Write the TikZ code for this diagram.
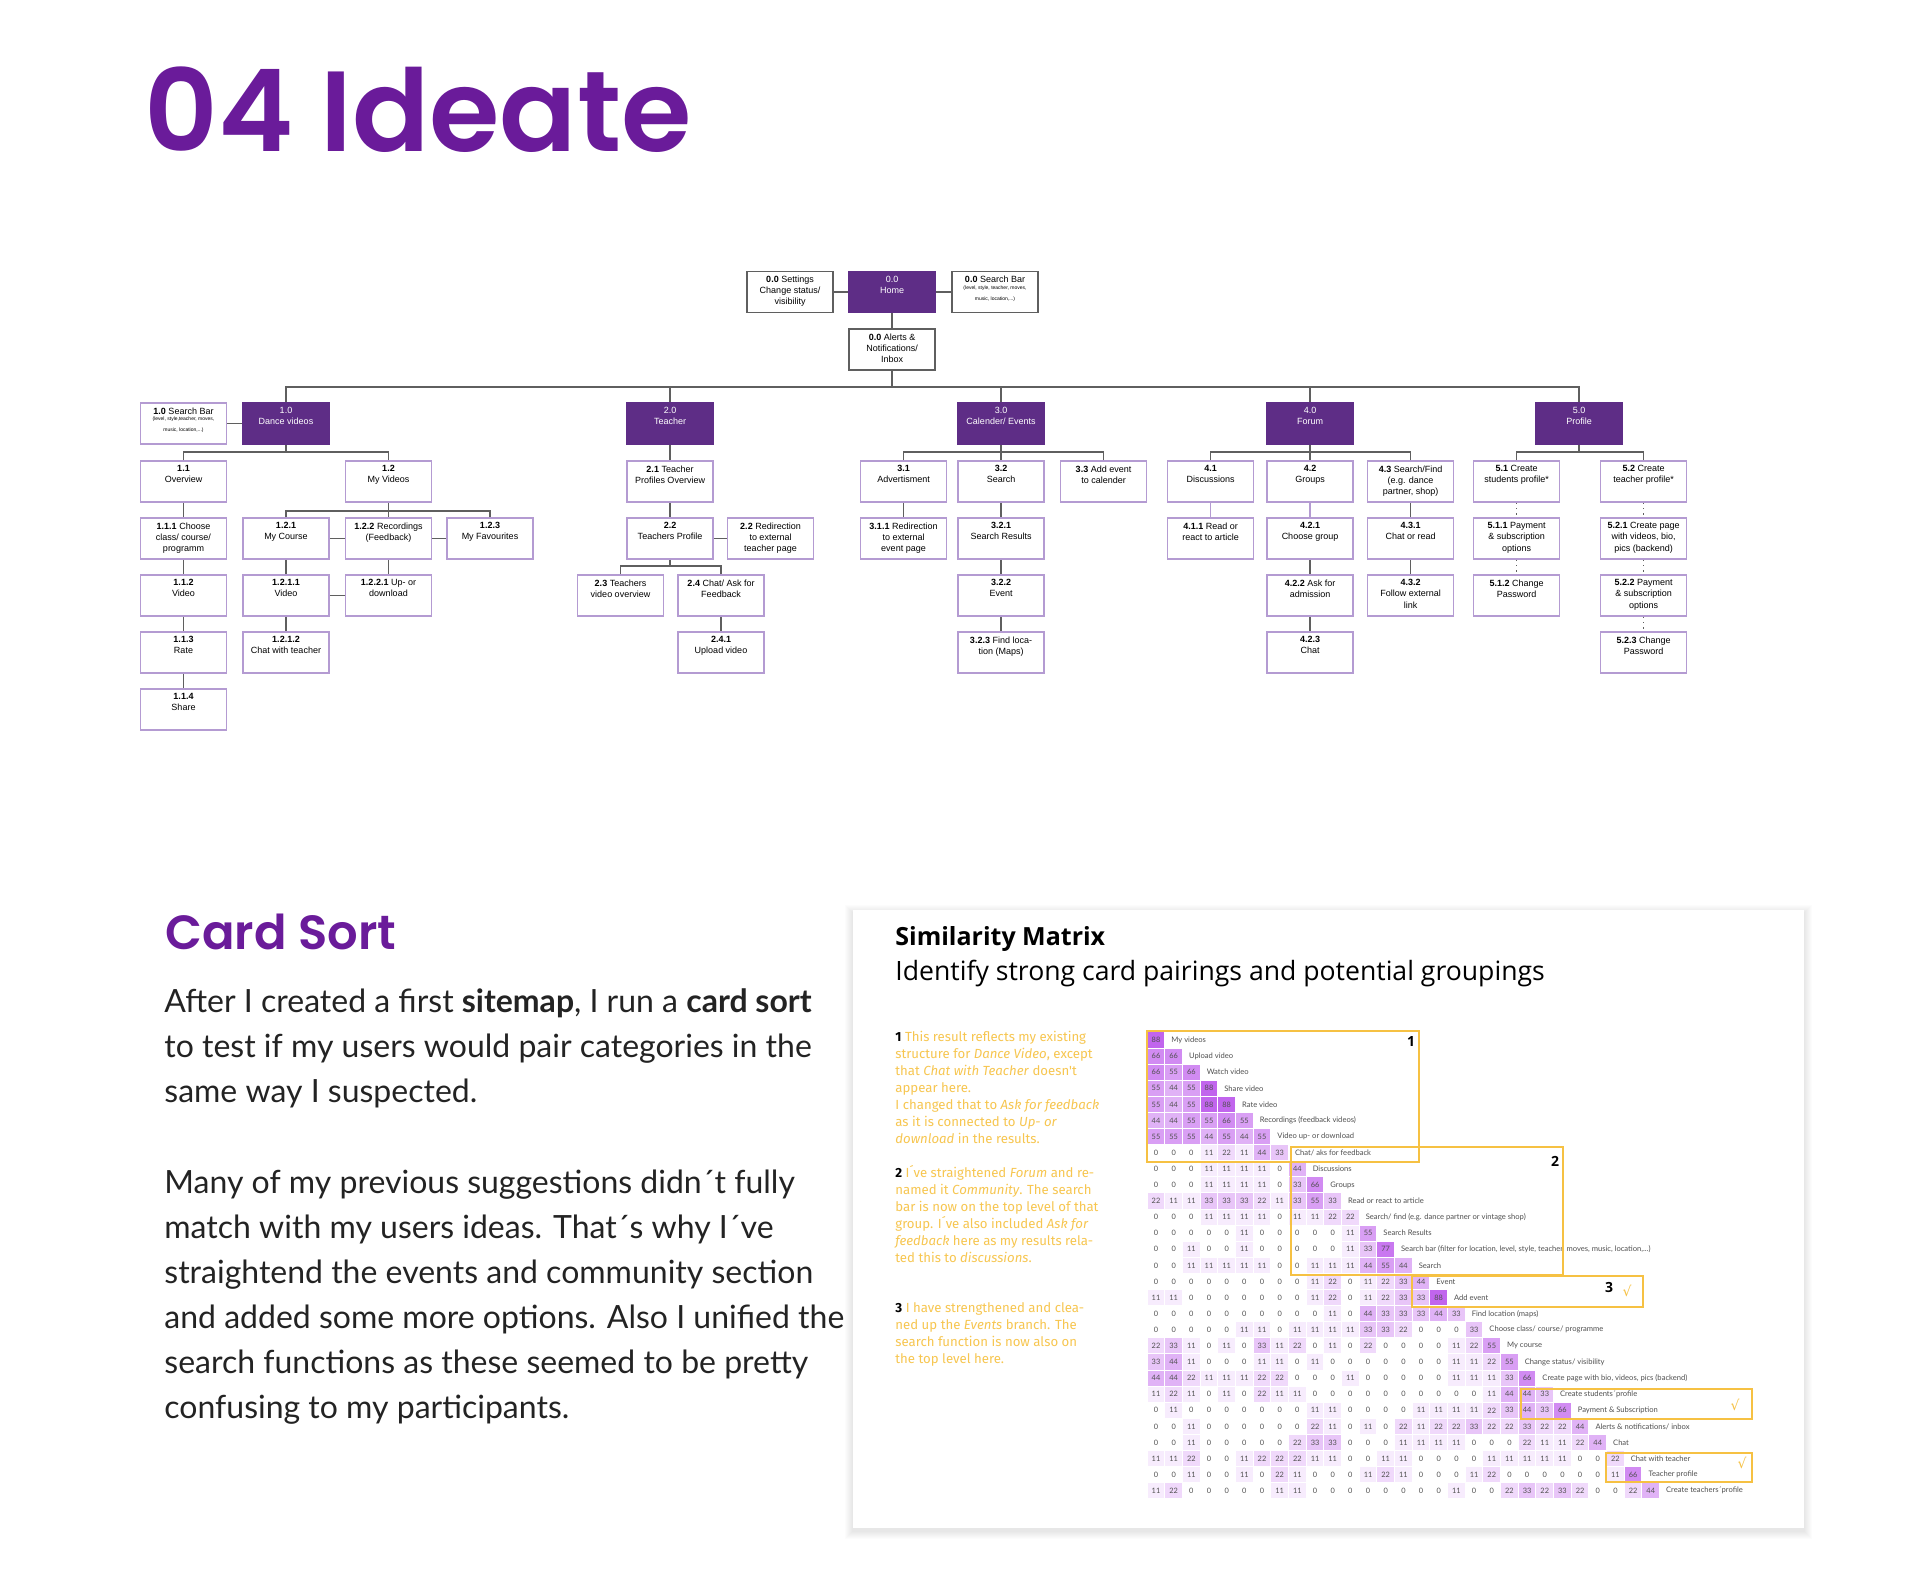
\documentclass[tikz,border=0pt]{standalone}
\usepackage{fontspec}
\setmainfont{Lato}
\newfontfamily\headfont{Poppins}[BoldFont={Poppins SemiBold}]
\newfontfamily\boxfont{Liberation Sans}
\newfontfamily\notefont{Fira Sans}
\newfontfamily\simfont{Open Sans}
\newfontfamily\symfont{DejaVu Sans}
\usepackage{tikz}

\definecolor{ideapurple}{RGB}{106,27,154}
\definecolor{boxpurple}{RGB}{94,45,134}
\definecolor{boxline}{RGB}{180,155,210}
\definecolor{linegray}{RGB}{95,95,95}
\definecolor{framey}{RGB}{246,193,67}
\definecolor{notey}{RGB}{247,198,80}
\definecolor{mpurple}{RGB}{185,80,235}
\definecolor{bodygray}{RGB}{35,35,35}
\definecolor{numgray}{RGB}{80,80,80}

\newcommand{\tinytext}[1]{{\fontsize{2.5}{3.3}\selectfont #1}}

\begin{document}
\begin{tikzpicture}[x=0.5pt, y=-0.5pt,
	every node/.style={inner sep=0pt},
	link/.style={draw=linegray, line width=0.65pt},
	softlink/.style={draw=boxline, line width=0.65pt},
	dotlink/.style={draw=linegray, line width=0.65pt, dotted},
	sbox/.style={draw=boxline, fill=white, line width=0.75pt, minimum width=43pt, minimum height=20.5pt,
		font=\boxfont\fontsize{4.5}{5.6}\selectfont,
		execute at begin node={\begin{minipage}[c][16pt][t]{42pt}\centering},
		execute at end node={\end{minipage}}},
	pbox/.style={sbox, draw=boxpurple, fill=boxpurple, text=white},
	darkbox/.style={sbox, draw=linegray},
	mcell/.style={draw=white, line width=0.5pt, minimum width=8.83pt, minimum height=8.05pt, font=\fontsize{3.7}{4}\selectfont, text=numgray},
	mlabel/.style={anchor=west, font=\fontsize{3.8}{4}\selectfont, text=numgray},
	frame/.style={draw=framey, line width=0.8pt},
	tick/.style={text=framey, font=\symfont\fontsize{7}{7}\selectfont},
	note/.style={anchor=base west, align=left, font=\notefont\fontsize{6.6}{8.5}\selectfont, text=notey},
	body/.style={anchor=base west, align=left, font=\fontsize{16}{22.5}\selectfont, text=bodygray}]
	\useasboundingbox (0,0) rectangle (1920,1575);

	\node[anchor=base west, font=\headfont\bfseries\fontsize{57}{57}\selectfont, text=ideapurple] (title) at (144,151) {04 Ideate};

	\node[darkbox] (set) at (790,292) {\textbf{0.0} Settings\\Change status/\\visibility};
	\node[pbox] (home) at (892,292) {0.0\\Home};
	\node[darkbox] (sbar) at (995,292) {\textbf{0.0} Search Bar\\\tinytext{(level, style, teacher, moves,\\music, location,...)}};
	\node[darkbox] (alerts) at (892,349.5) {\textbf{0.0} Alerts \&\\Notifications/\\Inbox};

	\node[sbox] (d10s) at (183.5,423.5) {\textbf{1.0} Search Bar\\\tinytext{(level, style,teacher, moves,\\music, location,...)}};
	\node[pbox] (d10) at (286,423.5) {1.0\\Dance videos};
	\node[pbox] (t20) at (670,423.5) {2.0\\Teacher};
	\node[pbox] (c30) at (1001,423.5) {3.0\\Calender/ Events};
	\node[pbox] (f40) at (1310,423.5) {4.0\\Forum};
	\node[pbox] (p50) at (1579,423.5) {5.0\\Profile};

	\node[sbox] (o11) at (183.5,481.5) {\textbf{1.1}\\Overview};
	\node[sbox] (o111) at (183.5,538.5) {\textbf{1.1.1} Choose\\class/ course/\\programm};
	\node[sbox] (o112) at (183.5,595.5) {\textbf{1.1.2}\\Video};
	\node[sbox] (o113) at (183.5,652.5) {\textbf{1.1.3}\\Rate};
	\node[sbox] (o114) at (183.5,709.5) {\textbf{1.1.4}\\Share};
	\node[sbox] (v12) at (388.5,481.5) {\textbf{1.2}\\My Videos};
	\node[sbox] (v121) at (286,538.5) {\textbf{1.2.1}\\My Course};
	\node[sbox] (v122) at (388.5,538.5) {\textbf{1.2.2} Recordings\\(Feedback)};
	\node[sbox] (v123) at (490,538.5) {\textbf{1.2.3}\\My Favourites};
	\node[sbox] (v1211) at (286,595.5) {\textbf{1.2.1.1}\\Video};
	\node[sbox] (v1212) at (286,652.5) {\textbf{1.2.1.2}\\Chat with teacher};
	\node[sbox] (v1221) at (388.5,595.5) {\textbf{1.2.2.1} Up- or\\download};

	\node[sbox] (t21) at (670,481.5) {\textbf{2.1} Teacher\\Profiles Overview};
	\node[sbox] (t22) at (670,538.5) {\textbf{2.2}\\Teachers Profile};
	\node[sbox] (t22r) at (770.5,538.5) {\textbf{2.2} Redirection\\to external\\teacher page};
	\node[sbox] (t23) at (620.5,595.5) {\textbf{2.3} Teachers\\video overview};
	\node[sbox] (t24) at (721,595.5) {\textbf{2.4} Chat/ Ask for\\Feedback};
	\node[sbox] (t241) at (721,652.5) {\textbf{2.4.1}\\Upload video};

	\node[sbox] (c31) at (903.5,481.5) {\textbf{3.1}\\Advertisment};
	\node[sbox] (c32) at (1001,481.5) {\textbf{3.2}\\Search};
	\node[sbox] (c33) at (1103.5,481.5) {\textbf{3.3} Add event\\to calender};
	\node[sbox] (c311) at (903.5,538.5) {\textbf{3.1.1} Redirection\\to external\\event page};
	\node[sbox] (c321) at (1001,538.5) {\textbf{3.2.1}\\Search Results};
	\node[sbox] (c322) at (1001,595.5) {\textbf{3.2.2}\\Event};
	\node[sbox] (c323) at (1001,652.5) {\textbf{3.2.3} Find loca-\\tion (Maps)};

	\node[sbox] (f41) at (1210.5,481.5) {\textbf{4.1}\\Discussions};
	\node[sbox] (f42) at (1310,481.5) {\textbf{4.2}\\Groups};
	\node[sbox] (f43) at (1410.5,481.5) {\textbf{4.3} Search/Find\\(e.g. dance\\partner, shop)};
	\node[sbox] (f411) at (1210.5,538.5) {\textbf{4.1.1} Read or\\react to article};
	\node[sbox] (f421) at (1310,538.5) {\textbf{4.2.1}\\Choose group};
	\node[sbox] (f422) at (1310,595.5) {\textbf{4.2.2} Ask for\\admission};
	\node[sbox] (f423) at (1310,652.5) {\textbf{4.2.3}\\Chat};
	\node[sbox] (f431) at (1410.5,538.5) {\textbf{4.3.1}\\Chat or read};
	\node[sbox] (f432) at (1410.5,595.5) {\textbf{4.3.2}\\Follow external\\link};

	\node[sbox] (p51) at (1516.5,481.5) {\textbf{5.1} Create\\students profile*};
	\node[sbox] (p511) at (1516.5,538.5) {\textbf{5.1.1} Payment\\\& subscription\\options};
	\node[sbox] (p512) at (1516.5,595.5) {\textbf{5.1.2} Change\\Password};
	\node[sbox] (p52) at (1643.5,481.5) {\textbf{5.2} Create\\teacher profile*};
	\node[sbox] (p521) at (1643.5,538.5) {\textbf{5.2.1} Create page\\with videos, bio,\\pics (backend)};
	\node[sbox] (p522) at (1643.5,595.5) {\textbf{5.2.2} Payment\\\& subscription\\options};
	\node[sbox] (p523) at (1643.5,652.5) {\textbf{5.2.3} Change\\Password};

	\draw[link] (set) -- (home);
	\draw[link] (home) -- (sbar);
	\draw[link] (home) -- (alerts);
	\coordinate (bus0) at (892,387);
	\draw[link] (alerts) -- (bus0);
	\foreach \n in {d10,t20,c30,f40,p50} \draw[link] (\n.north) |- (bus0);

	\draw[link] (d10s) -- (d10);
	\coordinate (bus1) at (286,452);
	\draw[link] (d10) -- (bus1);
	\foreach \n in {o11,v12} \draw[link] (\n.north) |- (bus1);
	\draw[link] (o11) -- (o111) -- (o112) -- (o113) -- (o114);
	\coordinate (bus12) at (388.5,511);
	\draw[link] (v12) -- (v122);
	\foreach \n in {v121,v123} \draw[link] (\n.north) |- (bus12);
	\draw[link] (v121) -- (v122);
	\draw[link] (v122) -- (v123);
	\draw[link] (v121) -- (v1211) -- (v1212);
	\draw[link] (v122) -- (v1221);
	\draw[link] (v1211) -- (v1221);

	\draw[link] (t20) -- (t21) -- (t22);
	\draw[link] (t22) -- (t22r);
	\coordinate (bus22) at (670,566);
	\draw[link] (t22) -- (bus22);
	\foreach \n in {t23,t24} \draw[link] (\n.north) |- (bus22);
	\draw[link] (t24) -- (t241);

	\coordinate (bus3) at (1001,452);
	\draw[link] (c30) -- (c32);
	\foreach \n in {c31,c33} \draw[link] (\n.north) |- (bus3);
	\draw[link] (c31) -- (c311);
	\draw[link] (c32) -- (c321) -- (c322) -- (c323);

	\coordinate (bus4) at (1310,452);
	\draw[link] (f40) -- (f42);
	\foreach \n in {f41,f43} \draw[link] (\n.north) |- (bus4);
	\draw[softlink] (f41) -- (f411);
	\draw[softlink] (f42) -- (f421);
	\draw[link] (f421) -- (f422) -- (f423);
	\draw[link] (f43) -- (f431) -- (f432);

	\coordinate (bus5) at (1579,452);
	\draw[link] (p50) -- (bus5);
	\foreach \n in {p51,p52} \draw[link] (\n.north) |- (bus5);
	\draw[dotlink] (p51) -- (p511) -- (p512);
	\draw[dotlink] (p52) -- (p521) -- (p522) -- (p523);

	\node[anchor=base west, font=\headfont\bfseries\fontsize{24}{24}\selectfont, text=ideapurple] (cardsort) at (165,949) {Card Sort};
	\node[body] (intro) at (164,1102) {After I created a first \textbf{sitemap}, I run a \textbf{card sort}\\to test if my users would pair categories in the\\same way I suspected.};
	\node[body] (result) at (164,1418) {Many of my previous suggestions didn´t fully\\match with my users ideas. That´s why I´ve\\straightend the events and community section\\and added some more options. Also I unified the\\search functions as these seemed to be pretty\\confusing to my participants.};

	\foreach \i in {1,...,8} \fill[black, opacity=0.012] (853-\i,910-\i+3) rectangle (1804+\i,1528+\i+3);
	\fill[white] (853,910) rectangle (1804,1528);
	\node[anchor=base west, font=\simfont\bfseries\fontsize{12.5}{12.5}\selectfont] (simtitle) at (895,945) {Similarity Matrix};
	\node[anchor=base west, font=\simfont\fontsize{13.3}{13.3}\selectfont] (simsub) at (895,980) {Identify strong card pairings and potential groupings};

	\node[note] (note1) at (895,1143) {\textcolor{black}{\textbf{1}} This result reflects my existing\\structure for \textit{Dance Video}, except\\that \textit{Chat with Teacher} doesn't\\appear here.\\I changed that to \textit{Ask for feedback}\\as it is connected to \textit{Up- or}\\\textit{download} in the results.};
	\node[note] (note2) at (895,1262) {\textcolor{black}{\textbf{2}} I´ve straightened \textit{Forum} and re-\\named it \textit{Community}. The search\\bar is now on the top level of that\\group. I´ve also included \textit{Ask for}\\\textit{feedback} here as my results rela-\\ted this to \textit{discussions}.};
	\node[note] (note3) at (895,1363) {\textcolor{black}{\textbf{3}} I have strengthened and clea-\\ned up the \textit{Events} branch. The\\search function is now also on\\the top level here.};

	\foreach \r/\vals/\lab in {
		1/{88}/{My videos},
		2/{66,66}/{Upload video},
		3/{66,55,66}/{Watch video},
		4/{55,44,55,88}/{Share video},
		5/{55,44,55,88,88}/{Rate video},
		6/{44,44,55,55,66,55}/{Recordings (feedback videos)},
		7/{55,55,55,44,55,44,55}/{Video up- or download},
		8/{0,0,0,11,22,11,44,33}/{Chat/ aks for feedback},
		9/{0,0,0,11,11,11,11,0,44}/{Discussions},
		10/{0,0,0,11,11,11,11,0,33,66}/{Groups},
		11/{22,11,11,33,33,33,22,11,33,55,33}/{Read or react to article},
		12/{0,0,0,11,11,11,11,0,11,11,22,22}/{Search/ find (e.g. dance partner or vintage shop)},
		13/{0,0,0,0,0,11,0,0,0,0,0,11,55}/{Search Results},
		14/{0,0,11,0,0,11,0,0,0,0,0,11,33,77}/{Search bar (filter for location, level, style, teacher, moves, music, location,...)},
		15/{0,0,11,11,11,11,11,0,0,11,11,11,44,55,44}/{Search},
		16/{0,0,0,0,0,0,0,0,0,11,22,0,11,22,33,44}/{Event},
		17/{11,11,0,0,0,0,0,0,0,11,22,0,11,22,33,33,88}/{Add event},
		18/{0,0,0,0,0,0,0,0,0,0,11,0,44,33,33,33,44,33}/{Find location (maps)},
		19/{0,0,0,0,0,11,11,0,11,11,11,11,33,33,22,0,0,0,33}/{Choose class/ course/ programme},
		20/{22,33,11,0,11,0,33,11,22,0,11,0,22,0,0,0,0,11,22,55}/{My course},
		21/{33,44,11,0,0,0,11,11,0,11,0,0,0,0,0,0,0,11,11,22,55}/{Change status/ visibility},
		22/{44,44,22,11,11,11,22,22,0,0,0,11,0,0,0,0,0,11,11,11,33,66}/{Create page with bio, videos, pics (backend)},
		23/{11,22,11,0,11,0,22,11,11,0,0,0,0,0,0,0,0,0,0,11,44,44,33}/{Create students´profile},
		24/{0,11,0,0,0,0,0,0,0,11,11,0,0,0,0,11,11,11,11,22,33,44,33,66}/{Payment \& Subscription},
		25/{0,0,11,0,0,0,0,0,0,22,11,0,11,0,22,11,22,22,33,22,22,33,22,22,44}/{Alerts \& notifications/ inbox},
		26/{0,0,11,0,0,0,0,0,22,33,33,0,0,0,11,11,11,11,0,0,0,22,11,11,22,44}/{Chat},
		27/{11,11,22,0,0,11,22,22,22,11,11,0,0,11,11,0,0,0,0,11,11,11,11,11,0,0,22}/{Chat with teacher},
		28/{0,0,11,0,0,11,0,22,11,0,0,0,11,22,11,0,0,0,11,22,0,0,0,0,0,0,11,66}/{Teacher profile},
		29/{11,22,0,0,0,0,0,11,11,0,0,0,0,0,0,0,0,11,0,0,22,33,22,33,22,0,0,22,44}/{Create teachers´profile}}{
		\foreach \v [count=\c] in \vals
			\node[mcell, fill=mpurple!\v!white] (c\r-\c) at ({1156+(\c-1)*17.67},{1040+(\r-1)*16.1}) {\v};
		\node[mlabel] (lab\r) at ({1156+(\r-1)*17.67+15},{1040+(\r-1)*16.1}) {\lab};
	}

	\draw[frame] (1147,1031) rectangle (1419,1162);
	\draw[frame] (1291,1147) rectangle (1563,1275);
	\draw[frame] (1412,1276) rectangle (1643,1307);
	\draw[frame] (1521,1389) rectangle (1752,1419);
	\draw[frame] (1606,1453) rectangle (1752,1482);
	\node[font=\simfont\bfseries\fontsize{7}{7}\selectfont] (g1) at (1411,1041) {1};
	\node[font=\simfont\bfseries\fontsize{7}{7}\selectfont] (g2) at (1555,1161) {2};
	\node[font=\simfont\bfseries\fontsize{7}{7}\selectfont] (g3) at (1609,1287) {3};
	\node[tick] (ok3) at (1627,1291) {√};
	\node[tick] (ok4) at (1735,1405) {√};
	\node[tick] (ok5) at (1742,1463) {√};
\end{tikzpicture}
\end{document}
